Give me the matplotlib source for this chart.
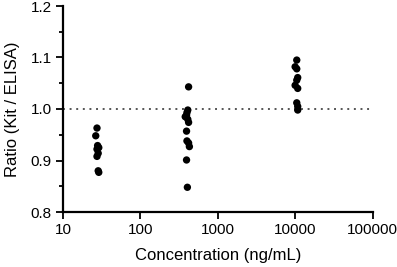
import matplotlib
matplotlib.use("Agg")
import matplotlib.pyplot as plt
from matplotlib.ticker import FixedLocator, MultipleLocator

plt.rcParams['font.family'] = ['Liberation Sans', 'DejaVu Sans']

conc_low = [27.5, 26.5, 28, 29, 27.5, 28.5, 27.5, 28.5, 29]
ratio_low = [0.963, 0.948, 0.929, 0.925, 0.922, 0.914, 0.908, 0.880, 0.877]

conc_mid = [420, 410, 400, 395, 380, 410, 420, 395, 400, 420, 430, 395, 405]
ratio_mid = [1.043, 0.998, 0.993, 0.988, 0.985, 0.980, 0.974, 0.957, 0.938,
             0.934, 0.927, 0.901, 0.848]

conc_high = [10500, 10000, 10500, 10800, 10500, 10000, 10800, 10500, 10800, 10800]
ratio_high = [1.095, 1.082, 1.078, 1.061, 1.056, 1.046, 1.040, 1.012, 1.005, 0.998]

x_ticks = [10, 100, 1000, 10000, 100000]
x_tick_labels = ["10", "100", "1000", "10000", "100000"]
y_ticks = [0.8, 0.9, 1.0, 1.1, 1.2]
y_tick_labels = ["0.8", "0.9", "1.0", "1.1", "1.2"]
reference_ratio = 1.0

fig = plt.figure(figsize=(3.97, 2.67), dpi=100)
ax = fig.add_axes([63/397, 1 - 212/267, (372.5 - 63)/397, (212 - 6)/267])

ax.plot([x_ticks[0], x_ticks[-1]], [reference_ratio, reference_ratio],
        linestyle=(0, (1, 2.4)), color='#555555', linewidth=1.4, zorder=1)

for xs, ys in [(conc_low, ratio_low), (conc_mid, ratio_mid), (conc_high, ratio_high)]:
    ax.scatter(xs, ys, s=28, color='black', edgecolors='none', zorder=3, clip_on=False)

ax.set_xscale('log')
ax.set_xlim(x_ticks[0], x_ticks[-1])
ax.set_ylim(y_ticks[0], y_ticks[-1])
ax.set_xticks(x_ticks)
ax.set_xticklabels(x_tick_labels)
ax.xaxis.set_minor_locator(FixedLocator([]))
ax.set_yticks(y_ticks)
ax.set_yticklabels(y_tick_labels)
ax.yaxis.set_minor_locator(MultipleLocator(0.05))

for side in ['top', 'right']:
    ax.spines[side].set_visible(False)
for side in ['left', 'bottom']:
    ax.spines[side].set_linewidth(1.6)

ax.tick_params(axis='both', which='major', labelsize=11, width=1.3, length=5, pad=3)
ax.tick_params(axis='y', which='minor', width=1.3, length=3)

ax.set_xlabel("Concentration (ng/mL)", fontsize=12, labelpad=8)
ax.set_ylabel("Ratio (Kit / ELISA)", fontsize=12, labelpad=8)

fig.savefig("out.png", dpi=100)
